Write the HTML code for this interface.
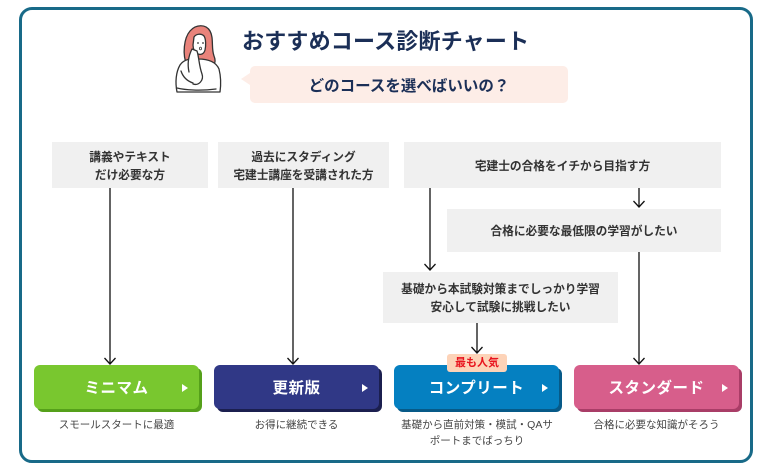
<!DOCTYPE html>
<html><head><meta charset="utf-8">
<style>
html,body{margin:0;padding:0;background:#fff;}
body{width:767px;height:473px;position:relative;overflow:hidden;font-family:"Liberation Sans","Noto Sans CJK JP",sans-serif;}
.frame{position:absolute;left:19px;top:7px;width:728px;height:450px;border:3px solid #186a88;border-radius:13px;}
.t{position:absolute;white-space:nowrap;}
.title{left:242px;top:28px;font-size:22px;font-weight:700;color:#1b2f57;letter-spacing:0.2px;line-height:28px;}
.bubble{position:absolute;left:250px;top:66px;width:318px;height:37px;background:#fdede7;border-radius:5px;}
.bubble:before{content:"";position:absolute;left:-9px;top:7px;border-right:9px solid #fdede7;border-top:6px solid transparent;border-bottom:6px solid transparent;}
.bq{left:250px;top:68px;width:318px;text-align:center;line-height:37px;font-size:15.5px;font-weight:700;color:#1b2f57;}
.box{position:absolute;background:#f0f0f0;color:#333;font-size:11.7px;font-weight:700;text-align:center;display:flex;flex-direction:column;justify-content:center;line-height:18px;box-sizing:border-box;padding-top:3px;}
.btn{position:absolute;top:365px;width:165px;height:44px;border-radius:6px;color:#fff;font-size:15.5px;font-weight:700;text-align:center;line-height:48px;letter-spacing:0.5px;}
.btn i{position:absolute;right:11px;top:19px;width:0;height:0;border-left:6px solid #fff;border-top:4px solid transparent;border-bottom:4px solid transparent;}
.sub{position:absolute;font-size:10.5px;color:#444;text-align:center;line-height:15.5px;}
.badge{position:absolute;left:447px;top:354px;width:60px;height:18px;background:#fdd3b8;border-radius:3px;color:#e8141e;font-size:11px;font-weight:700;text-align:center;line-height:19px;z-index:3;}
</style></head><body>
<div class="frame"></div>

<svg style="position:absolute;left:0;top:0" width="767" height="473" viewBox="0 0 767 473">
  <!-- person -->
  <g stroke="#333" stroke-width="1.3" stroke-linejoin="round" stroke-linecap="round">
    <path d="M187,66 C182,54 184,38 190,31 C196,24 206,24 210,31 C214,38 211,48 214,56 C217,63 213,69 206,68 L196,68 Z" fill="#e9837b"/>
    <path d="M194,37 C196,34 201,33 204,36 C206,39 206,46 205,50 C204,54 201,55 198,54 C195,53 193,49 193,45 Z" fill="#fff"/>
    <path d="M177,92 C175,82 176,72 180,65 C184,59 192,58 198,59 C208,59 216,62 219,69 C221,77 221,85 220,92 Z" fill="#fff"/>
    <path d="M177,88 C185,90 200,91 216,89" fill="none"/>
    <path d="M189,72 C187,63 189,55 192,49 L197,51 C199,57 199,66 202,74 C204,80 199,86 193,84" fill="#fff"/>
    <path d="M181,71 C183,77 187,81 193,83" fill="none"/>
  </g>
  <circle cx="198" cy="43" r="0.9" fill="#333"/>
  <circle cx="203" cy="43" r="0.9" fill="#333"/>
  <ellipse cx="200.5" cy="48.5" rx="1" ry="1.4" fill="none" stroke="#333" stroke-width="0.8"/>

  <!-- connectors -->
  <g stroke="#111" stroke-width="1.3" fill="none">
    <line x1="110" y1="188" x2="110" y2="364"/>
    <polyline points="104.5,358 110,364 115.5,358"/>
    <line x1="293" y1="188" x2="293" y2="364"/>
    <polyline points="287.5,358 293,364 298.5,358"/>
    <line x1="430" y1="188" x2="430" y2="270"/>
    <polyline points="424.5,264 430,270 435.5,264"/>
    <line x1="639" y1="188" x2="639" y2="207"/>
    <polyline points="633.5,201 639,207 644.5,201"/>
    <line x1="639" y1="252" x2="639" y2="364"/>
    <polyline points="633.5,358 639,364 644.5,358"/>
    <line x1="477" y1="323" x2="477" y2="353"/>
    <polyline points="471.5,347 477,353 482.5,347"/>
  </g>
</svg>

<div class="t title">おすすめコース診断チャート</div>
<div class="bubble"></div>
<div class="t bq">どのコースを選べばいいの？</div>

<div class="box" style="left:52px;top:142px;width:156px;height:46px;"><div>講義やテキスト</div><div>だけ必要な方</div></div>
<div class="box" style="left:218px;top:142px;width:171px;height:46px;"><div>過去にスタディング</div><div>宅建士講座を受講された方</div></div>
<div class="box" style="left:404px;top:142px;width:317px;height:46px;"><div>宅建士の合格をイチから目指す方</div></div>
<div class="box" style="left:447px;top:209px;width:274px;height:43px;"><div>合格に必要な最低限の学習がしたい</div></div>
<div class="box" style="left:383px;top:272px;width:235px;height:51px;"><div>基礎から本試験対策までしっかり学習</div><div>安心して試験に挑戦したい</div></div>

<div class="btn" style="left:34px;background:#79c72f;box-shadow:3px 3px 0 #55a01a;">ミニマム<i></i></div>
<div class="btn" style="left:214px;background:#303886;box-shadow:3px 3px 0 #1b1f4f;">更新版<i></i></div>
<div class="btn" style="left:394px;background:#0580c1;box-shadow:3px 3px 0 #075a88;">コンプリート<i></i></div>
<div class="btn" style="left:574px;background:#d75e8b;box-shadow:3px 3px 0 #a93d67;">スタンダード<i></i></div>
<div class="badge">最も人気</div>

<div class="sub" style="left:34px;top:418px;width:165px;">スモールスタートに最適</div>
<div class="sub" style="left:214px;top:418px;width:165px;">お得に継続できる</div>
<div class="sub" style="left:384px;top:418px;width:186px;">基礎から直前対策・模試・QAサ<br>ポートまでばっちり</div>
<div class="sub" style="left:564px;top:418px;width:185px;">合格に必要な知識がそろう</div>
</body></html>
